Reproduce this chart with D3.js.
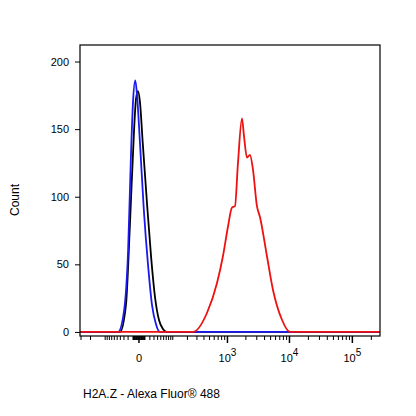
<meta charset="utf-8">
<body style="margin:0;background:#fff">
<div id="chart"></div>
</body>
<script src="https://d3js.org/d3.v7.min.js"></script>
<script>
// histogram data (intensity, count)
var blueX = [-47, -30, -20, -14, -10, -6, -3, 1.5, 8, 16, 25, 35, 47];
var blueY = [0, 15, 60, 130, 170, 186, 175, 140, 90, 50, 20, 6, 0];
var blackX = [-41, -25, -16, -8, -4.8, -1.5, 1.5, 6, 14, 23, 33, 44, 58, 73];
var blackY = [0, 20, 80, 150, 172, 178, 170, 140, 95, 55, 25, 9, 2, 0];
var redX = [254, 451, 668, 841, 1021, 1186, 1329, 1488, 1728, 1862, 2083, 2330, 2604, 3018, 3374, 4370, 5460, 7590, 10190];
var redY = [0, 14, 36, 56, 78, 92, 93, 125, 158, 145, 129, 131, 120, 93, 85, 56, 31, 9, 0];
var yTicks = [0, 50, 100, 150, 200];
var xMajor = [0, 1000, 10000, 100000];
var xLabels = ["0", "3", "4", "5"];

var W = 416, H = 416;
var svg = d3.select("#chart").append("svg").attr("width", W).attr("height", H)
  .style("font-family", "Arial, 'Liberation Sans', sans-serif");

var x = d3.scaleSymlog().constant(41).domain([-313, 274700]).range([80, 380]);
var y = d3.scaleLinear().domain([-3, 210]).range([336, 48]);

// minor ticks
var minor = [];
[-1, 1].forEach(function(s) {
  [1, 10, 100, 1000, 10000, 100000].forEach(function(dec) {
    for (var k = 1; k <= 9; k++) {
      var v = s * k * dec;
      if (v > -313 && v < 274700 && xMajor.indexOf(v) < 0) minor.push(v);
    }
  });
});

var g = svg.append("g");
g.selectAll(".mn").data(minor).enter().append("line")
  .attr("x1", function(d) { return x(d); }).attr("x2", function(d) { return x(d); })
  .attr("y1", 336).attr("y2", 340).attr("stroke", "#000").attr("stroke-width", 1);
g.selectAll(".mj").data(xMajor).enter().append("line")
  .attr("x1", function(d) { return x(d); }).attr("x2", function(d) { return x(d); })
  .attr("y1", 336).attr("y2", 343).attr("stroke", "#000").attr("stroke-width", 1.5);

var lab = g.selectAll(".xl").data(xMajor).enter().append("text")
  .attr("x", function(d) { return x(d); }).attr("y", 362)
  .attr("font-size", 11).attr("text-anchor", "middle");
lab.each(function(d, i) {
  var t = d3.select(this);
  if (d === 0) { t.text("0"); return; }
  t.append("tspan").text("10");
  t.append("tspan").attr("dy", -6).attr("font-size", 10).text(xLabels[i]);
});

// y axis
svg.append("g").attr("transform", "translate(80,0)")
  .call(d3.axisLeft(y).tickValues(yTicks).tickSize(5).tickPadding(6))
  .call(function(a) { a.select(".domain").remove(); a.selectAll("text").attr("font-size", 11).attr("font-family", "Arial, 'Liberation Sans', sans-serif"); });

var line = d3.line().x(function(d) { return x(d[0]); }).y(function(d) { return y(d[1]); })
  .curve(d3.curveMonotoneX);

function draw(xs, ys, col) {
  var pts = [[-313, 0]].concat(d3.zip(xs, ys)).concat([[274700, 0]]);
  svg.append("path").attr("d", line(pts)).attr("fill", "none")
    .attr("stroke", col).attr("stroke-width", 1.8);
}
draw(blackX, blackY, "#000");
draw(blueX, blueY, "#1a1aee");
draw(redX, redY, "#ee1111");

svg.append("rect").attr("x", 80).attr("y", 45).attr("width", 300).attr("height", 291)
  .attr("fill", "none").attr("stroke", "#000").attr("stroke-width", 1.2);

svg.append("text").attr("transform", "translate(19,200) rotate(-90)")
  .attr("text-anchor", "middle").attr("font-size", 12).text("Count");
svg.append("text").attr("x", 83).attr("y", 398).attr("font-size", 12)
  .text("H2A.Z - Alexa Fluor® 488");
</script>
